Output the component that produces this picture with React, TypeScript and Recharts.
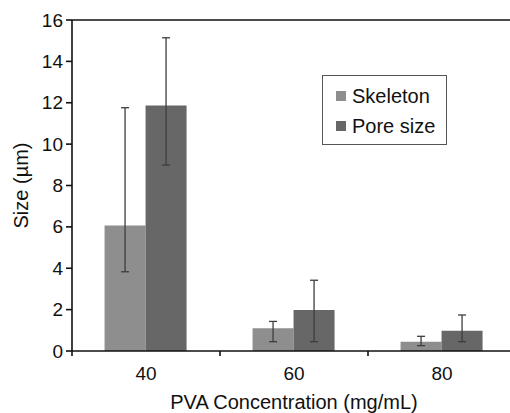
import { BarChart, Bar, XAxis, YAxis, ErrorBar, ReferenceLine, Legend } from "recharts";

const categories = ["40", "60", "80"];
const skeleton = [6.07, 1.1, 0.45];
const poreSize = [11.87, 1.98, 0.98];
// asymmetric error amounts [below, above]
const skeletonErr: [number, number][] = [
  [2.24, 5.69],
  [0.65, 0.33],
  [0.19, 0.26],
];
const poreErr: [number, number][] = [
  [2.88, 3.27],
  [1.53, 1.44],
  [0.53, 0.76],
];
const yTicks = [0, 2, 4, 6, 8, 10, 12, 14, 16];

const SKEL_COLOR = "#8e8e8e";
const PORE_COLOR = "#676767";
const AXIS = "#111";
const TEXT = "#111";
const FONT = "'Liberation Sans', Arial, sans-serif";

const data = categories.map((c, i) => ({
  name: c,
  skeleton: skeleton[i],
  pore: poreSize[i],
  skeletonErr: skeletonErr[i],
  poreErr: poreErr[i],
}));

// category label in the middle, small tick mark on the band boundary
function CategoryTick(props: any) {
  const { x, y, payload } = props;
  const half = payload?.offset ?? 74;
  return (
    <g>
      <line x1={x - half} y1={y - 8} x2={x - half} y2={y - 3} stroke={AXIS} strokeWidth={1.6} />
      <text x={x} y={y} dy={21} textAnchor="middle" fill={TEXT} fontSize={19} fontFamily={FONT}>
        {payload.value}
      </text>
    </g>
  );
}

function YTick(props: any) {
  const { x, y, payload } = props;
  return (
    <text x={x} y={y} dy={6.5} textAnchor="end" fill={TEXT} fontSize={19} fontFamily={FONT}>
      {payload.value}
    </text>
  );
}

function LegendBox() {
  const rows = [
    { label: "Skeleton", color: SKEL_COLOR },
    { label: "Pore size", color: PORE_COLOR },
  ];
  return (
    <div
      style={{
        width: 125,
        height: 70,
        boxSizing: "border-box",
        border: "1.5px solid #555",
        background: "#fff",
        paddingTop: 5,
        fontFamily: FONT,
      }}
    >
      {rows.map((r) => (
        <div key={r.label} style={{ display: "flex", alignItems: "center", height: 30, paddingLeft: 13 }}>
          <span style={{ width: 10, height: 10, background: r.color, marginRight: 6, display: "inline-block" }} />
          <span style={{ fontSize: 20, color: TEXT }}>{r.label}</span>
        </div>
      ))}
    </div>
  );
}

export default function App() {
  return (
    <div
      style={{
        position: "absolute",
        left: 0,
        top: 0,
        width: 510,
        height: 413,
        overflow: "hidden",
        background: "#fff",
        fontFamily: FONT,
      }}
    >
      <BarChart
        width={530}
        height={413}
        data={data}
        margin={{ top: 20, right: 14, bottom: 0, left: 0 }}
        barCategoryGap="22%"
        barGap={0}
      >
        <XAxis
          dataKey="name"
          height={62}
          stroke={AXIS}
          axisLine={{ stroke: AXIS, strokeWidth: 1.6 }}
          tickLine={false}
          tickSize={6}
          tickMargin={2}
          tick={<CategoryTick />}
          interval={0}
          label={{
            value: "PVA Concentration (mg/mL)",
            position: "insideBottom",
            offset: 4,
            fill: TEXT,
            fontSize: 20,
            fontFamily: FONT,
          }}
        />
        <YAxis
          width={72}
          domain={[0, 16]}
          ticks={yTicks}
          interval={0}
          stroke={AXIS}
          axisLine={{ stroke: AXIS, strokeWidth: 1.6 }}
          tickLine={{ stroke: AXIS, strokeWidth: 1.6 }}
          tickSize={6}
          tickMargin={3}
          tick={<YTick />}
          label={{
            value: "Size (\u00b5m)",
            angle: -90,
            position: "insideLeft",
            offset: 21,
            fill: TEXT,
            fontSize: 20,
            fontFamily: FONT,
            style: { textAnchor: "middle" },
          }}
        />
        <ReferenceLine y={16} stroke={AXIS} strokeWidth={1.6} />
        <Legend
          layout="vertical"
          align="center"
          verticalAlign="middle"
          content={<LegendBox />}
          wrapperStyle={{ position: "absolute", left: 322, top: 75, width: 125, height: 70 }}
        />
        <Bar dataKey="skeleton" name="Skeleton" fill={SKEL_COLOR} isAnimationActive={false}>
          <ErrorBar dataKey="skeletonErr" direction="y" width={4} stroke="#3d3d3d" strokeWidth={1.3} />
        </Bar>
        <Bar dataKey="pore" name="Pore size" fill={PORE_COLOR} isAnimationActive={false}>
          <ErrorBar dataKey="poreErr" direction="y" width={4} stroke="#3d3d3d" strokeWidth={1.3} />
        </Bar>
      </BarChart>
    </div>
  );
}
